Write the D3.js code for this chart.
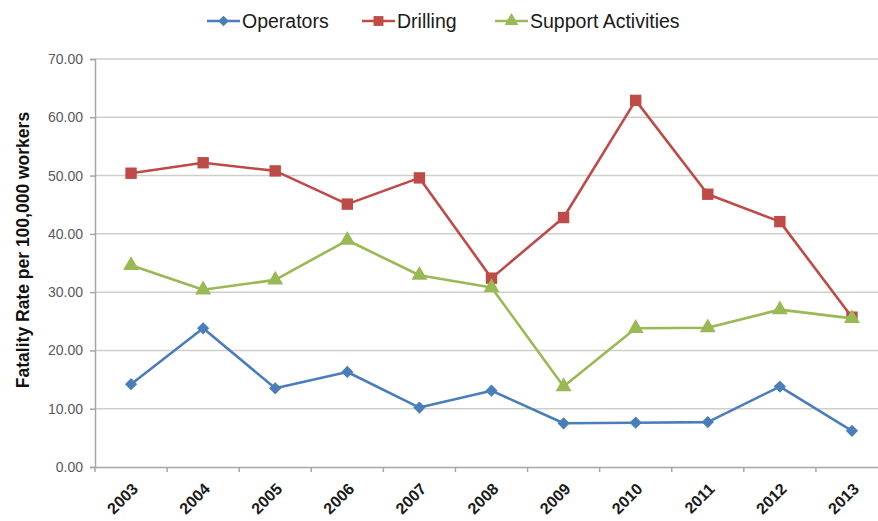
<!DOCTYPE html>
<html>
<head>
<meta charset="utf-8">
<script src="https://cdn.jsdelivr.net/npm/d3@7"></script>
<style>
  body { margin: 0; background: #fff; }
  svg { display: block; font-family: "Liberation Sans", Arial, sans-serif; }
</style>
</head>
<body>
<div id="chart"></div>
<script>
// data
var years = ["2003","2004","2005","2006","2007","2008","2009","2010","2011","2012","2013"];
var operators = [14.2, 23.8, 13.5, 16.3, 10.2, 13.1, 7.5, 7.6, 7.7, 13.8, 6.2];
var drilling  = [50.4, 52.2, 50.8, 45.1, 49.6, 32.4, 42.8, 62.9, 46.8, 42.1, 25.7];
var support   = [34.6, 30.4, 32.1, 38.9, 32.9, 30.8, 13.8, 23.8, 23.9, 27.0, 25.5];
var yTicks = [0, 10, 20, 30, 40, 50, 60, 70];

// square turned 45deg for the diamond marker (excel style)
var excelDiamond = {
  draw: function(ctx, size){
    var r = Math.sqrt(size / 2);
    ctx.moveTo(0, -r); ctx.lineTo(r, 0); ctx.lineTo(0, r); ctx.lineTo(-r, 0); ctx.closePath();
  }
};

var series = [
  {name: "Operators", values: operators, color: "#4A7EBB", shape: excelDiamond, size: 75},
  {name: "Drilling", values: drilling, color: "#BE4B48", shape: d3.symbolSquare, size: 130},
  {name: "Support Activities", values: support, color: "#98B954", shape: d3.symbolTriangle, size: 110}
];

var width = 878, height = 521;
var plotLeft = 95, plotTop = 59, plotBottom = 467, plotRight = 888;

var svg = d3.select("#chart").append("svg")
  .attr("width", width)
  .attr("height", height);

var x = d3.scaleBand().domain(years).range([plotLeft, plotRight]);
var y = d3.scaleLinear().domain([0, 70]).range([plotBottom, plotTop]);

// gridlines
svg.append("g")
  .selectAll("line")
  .data(yTicks.slice(1))
  .enter().append("line")
  .attr("x1", plotLeft).attr("x2", plotRight)
  .attr("y1", function(d){ return y(d); })
  .attr("y2", function(d){ return y(d); })
  .attr("stroke", "#cfcfc8")
  .attr("stroke-width", 1.5);

// y axis
var yAxis = svg.append("g")
  .attr("transform", "translate(" + plotLeft + ",0)")
  .call(d3.axisLeft(y).tickValues(yTicks).tickSize(5).tickPadding(7)
    .tickFormat(function(d){ return d3.format(".2f")(d); }));
yAxis.select(".domain").attr("stroke", "#a6a6a6").attr("stroke-width", 1.5);
yAxis.selectAll(".tick line").attr("stroke", "#a6a6a6").attr("stroke-width", 1.5);
yAxis.selectAll("text")
  .attr("fill", "#595959")
  .style("font-size", "14px");

// x axis
var xAxis = svg.append("g")
  .attr("transform", "translate(0," + plotBottom + ")")
  .call(d3.axisBottom(x).tickSize(0).tickFormat(""));
xAxis.select(".domain").attr("stroke", "#a6a6a6").attr("stroke-width", 1.5);

svg.append("g")
  .selectAll("line")
  .data(years.concat(["end"]))
  .enter().append("line")
  .attr("x1", function(d, i){ return plotLeft + i * x.bandwidth(); })
  .attr("x2", function(d, i){ return plotLeft + i * x.bandwidth(); })
  .attr("y1", plotBottom).attr("y2", plotBottom + 5)
  .attr("stroke", "#a6a6a6")
  .attr("stroke-width", 1.5);

svg.append("g")
  .selectAll("text")
  .data(years)
  .enter().append("text")
  .attr("transform", function(d){
    var cx = x(d) + x.bandwidth() / 2 + 4;
    return "translate(" + cx + "," + (plotBottom + 19) + ") rotate(-45)";
  })
  .attr("text-anchor", "end")
  .attr("dy", "0.35em")
  .style("font-size", "16px")
  .style("font-weight", "bold")
  .attr("fill", "#1a1a1a")
  .text(function(d){ return d; });

// y title
svg.append("text")
  .attr("transform", "translate(29,250) rotate(-90)")
  .attr("text-anchor", "middle")
  .style("font-size", "17.5px")
  .style("font-weight", "bold")
  .attr("fill", "#111")
  .text("Fatality Rate per 100,000 workers");

// lines + markers
var line = d3.line()
  .x(function(d, i){ return x(years[i]) + x.bandwidth() / 2; })
  .y(function(d){ return y(d); });

series.forEach(function(s){
  svg.append("path")
    .datum(s.values)
    .attr("d", line)
    .attr("fill", "none")
    .attr("stroke", s.color)
    .attr("stroke-width", 2.6)
    .attr("stroke-linejoin", "round");

  svg.append("g")
    .selectAll("path")
    .data(s.values)
    .enter().append("path")
    .attr("d", d3.symbol().type(s.shape).size(s.size))
    .attr("transform", function(d, i){
      return "translate(" + (x(years[i]) + x.bandwidth() / 2) + "," + y(d) + ")";
    })
    .attr("fill", s.color);
});

// legend
var legendPos = [207, 362, 495];
var legend = svg.append("g")
  .selectAll("g")
  .data(series)
  .enter().append("g")
  .attr("transform", function(d, i){ return "translate(" + legendPos[i] + ",21)"; });

legend.append("line")
  .attr("x1", 0).attr("x2", 33)
  .attr("stroke", function(d){ return d.color; })
  .attr("stroke-width", 2.6);
legend.append("path")
  .attr("d", function(d){ return d3.symbol().type(d.shape).size(d.size * 0.75)(); })
  .attr("transform", "translate(16.5,0)")
  .attr("fill", function(d){ return d.color; });
legend.append("text")
  .attr("x", 35)
  .attr("dy", "0.35em")
  .style("font-size", "19.5px")
  .attr("fill", "#1a1a1a")
  .text(function(d){ return d.name; });
</script>
</body>
</html>
